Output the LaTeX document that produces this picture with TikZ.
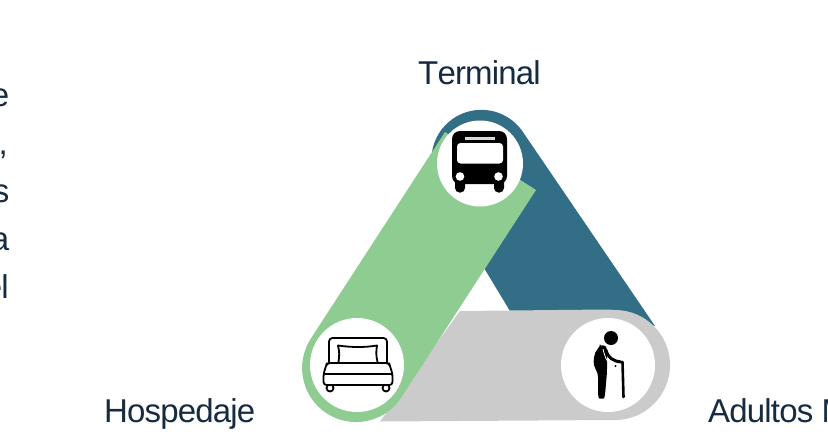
\documentclass[tikz,border=0pt]{standalone}
\usepackage{fontspec}
\setmainfont{Liberation Sans}
\newfontfamily\tightfont[LetterSpace=-2.5]{Liberation Sans}
\newfontfamily\nokernfont[LetterSpace=-2.5,Kerning=Off]{Liberation Sans}
\definecolor{navy}{HTML}{162B40}
\definecolor{tealb}{HTML}{336E87}
\definecolor{greenb}{HTML}{8FCC91}
\definecolor{grayb}{HTML}{CBCBCB}
\tikzset{
  label text/.style={text=navy,font=\tightfont\fontsize{33}{36}\selectfont,inner sep=0pt},
  hole/.style={circle,fill=white,inner sep=0pt,minimum size=#1},
  bedline/.style={draw=black,line width=1.8pt,line join=round,fill=white}
}
\begin{document}
\begin{tikzpicture}[x=1pt,y=-1pt]
\useasboundingbox (0,0) rectangle (828,434);
% bands
\fill[tealb] (432,152) arc[start angle=189,end angle=325,radius=50] -- (655,326) -- (620,315) -- (510,311) -- (484,268) -- (450,220) -- cycle;
\fill[grayb] (380,421.5) -- (460,311) -- (607,309.5) -- (615,310) arc[start angle=-90,end angle=90,radius=55] -- cycle;
\fill[greenb] (445,132) -- (536,190) -- (401,398) arc[start angle=33.7,end angle=213.7,radius=54] -- cycle;
% white circles
\node[hole=86pt] (terminal) at (480,163.5) {};
\node[hole=94pt] (hospedaje) at (357,365) {};
\node[hole=94pt] (adultos) at (608,365) {};
% labels
\node[label text,font=\nokernfont\fontsize{33}{36}\selectfont,anchor=base west] (t1) at (418,84) {Terminal};
\node[label text,anchor=base west] (t2) at (104,422) {Hospedaje};
\node[label text,anchor=base west] (t3) at (708,422) {Adultos Mayores};
\node[label text,anchor=base east] (p1) at (9.5,106) {e};
\node[label text,anchor=base east] (p2) at (8,154) {,};
\node[label text,anchor=base east] (p3) at (9.5,202) {s};
\node[label text,anchor=base east] (p4) at (9.5,250) {a};
\node[label text,anchor=base east] (p5) at (9,298) {el};
% bus
\fill[black,rounded corners=8pt] (452,131) rectangle (507,184);
\fill[black,rounded corners=4.5pt] (455,176) rectangle (465,192.5);
\fill[black,rounded corners=4.5pt] (494,176) rectangle (504,192.5);
\fill[white,rounded corners=3.5pt] (457,143) rectangle (503,163.5);
\fill[white!85!black] (465,137) rectangle (495,139.5);
\fill[white] (460,176.5) circle[radius=4.3];
\fill[white] (498.5,176.5) circle[radius=4.3];
% bed
\draw[bedline,rounded corners=3.5pt] (329,366) -- (329,338) -- (387,338) -- (387,366);
\draw[bedline] (338.5,362) .. controls (339.5,355) and (339.5,352) .. (338,345.5) .. controls (352,347.5) and (365,347.5) .. (377,345.5) .. controls (376,352) and (376,355) .. (377.5,362);
\draw[bedline] (330,388) circle[radius=3.5];
\draw[bedline] (386,388) circle[radius=3.5];
\draw[bedline,rounded corners=3pt] (323.5,374) -- (326,366) -- (327,363) -- (389,363) -- (390,366) -- (392.5,374) -- (392.5,385) -- (323.5,385) -- cycle;
\draw[black,line width=1.8pt] (323.5,374) -- (392.5,374);
% person
\fill[black] (611,338) circle[radius=7];
\fill[black,rounded corners=3pt] (600,347) .. controls (594,352) and (593,362) .. (595,368) .. controls (597,372) and (598,374) .. (598,380) -- (598,395) .. controls (599,399) and (604,399) .. (605,395) -- (607,372) -- (607,350) .. controls (606,346) and (603,345) .. (600,347) -- cycle;
\draw[black,line width=3pt,line cap=round] (606,350) .. controls (608,358) and (613,361) .. (621,362);
\draw[white,line width=.8pt] (603,349) .. controls (605,357) and (606,360) .. (610,364);
\draw[black,line width=2.6pt,line cap=round] (622.5,362) -- (623.5,397);
\fill[black] (615.5,366) circle[radius=1.2];
\end{tikzpicture}
\end{document}
